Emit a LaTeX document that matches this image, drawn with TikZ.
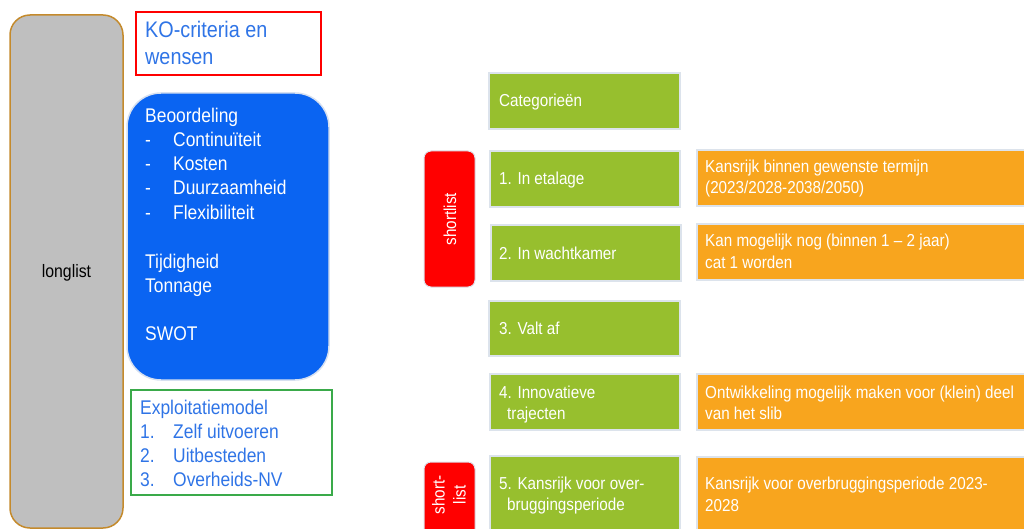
\documentclass[tikz,border=0pt]{standalone}
\usepackage{fontspec}
\setmainfont{Liberation Sans}[FakeStretch=0.88]
\definecolor{longgray}{HTML}{BFBFBF}
\definecolor{longborder}{HTML}{C48A2C}
\definecolor{kored}{HTML}{FF0000}
\definecolor{txtblue}{HTML}{2F74E6}
\definecolor{boxblue}{HTML}{0A64F2}
\definecolor{boxblueb}{HTML}{D6E0F0}
\definecolor{exgreen}{HTML}{3AAA4A}
\definecolor{catgreen}{HTML}{97BF2E}
\definecolor{catborder}{HTML}{DCE3EC}
\definecolor{orangebox}{HTML}{F8A51E}
\begin{document}
\begin{tikzpicture}[x=1pt,y=-1pt,
  bigtxt/.style={font=\fontsize{19.8}{23}\selectfont, inner sep=0pt, anchor=base west},
  kotxt/.style={font=\fontsize{22.5}{26}\selectfont, color=txtblue, inner sep=0pt, anchor=base west},
  smalltxt/.style={font=\fontsize{17.3}{21}\selectfont, color=white, inner sep=0pt, anchor=base west},
  catbox/.style={draw=catborder, line width=1.5pt, fill=catgreen},
  orbox/.style={draw=catborder, line width=1.5pt, fill=orangebox},
  redtag/.style={draw=catborder, line width=1pt, fill=kored, rounded corners=7pt}
]
\useasboundingbox (0,0) rectangle (1024,529);
% longlist
\draw[draw=longborder, line width=1.5pt, fill=longgray, rounded corners=20pt] (10,15) rectangle (123,528);
\node[inner sep=0pt, font=\fontsize{18}{21}\selectfont] (long) at (66.5,273) {longlist};
% KO box
\draw[draw=kored, line width=2.5pt] (136,12) rectangle (321,75);
\node[kotxt] (ko1) at (145,38) {KO-criteria en};
\node[kotxt] (ko2) at (145,65) {wensen};
% blue box
\draw[draw=boxblueb, line width=1.5pt, fill=boxblue, rounded corners=34pt] (127,93) rectangle (329,380);
\begin{scope}[every node/.append style={color=white}]
\node[bigtxt] (b0) at (145,123) {Beoordeling};
\node[bigtxt] (b1d) at (145,147) {-};
\node[bigtxt] (b1) at (173,147) {Continuïteit};
\node[bigtxt] (b2d) at (145,171) {-};
\node[bigtxt] (b2) at (173,171) {Kosten};
\node[bigtxt] (b3d) at (145,195) {-};
\node[bigtxt] (b3) at (173,195) {Duurzaamheid};
\node[bigtxt] (b4d) at (145,219) {-};
\node[bigtxt] (b4) at (173,219) {Flexibiliteit};
\node[bigtxt] (b5) at (145,268) {Tijdigheid};
\node[bigtxt] (b6) at (145,292) {Tonnage};
\node[bigtxt] (b7) at (145,340) {SWOT};
\end{scope}
% exploitatie box
\draw[draw=exgreen, line width=2.5pt] (131,390) rectangle (332,495);
\begin{scope}[every node/.append style={color=txtblue}]
\node[bigtxt] (e0) at (140,414) {Exploitatiemodel};
\node[bigtxt] (e1n) at (140,438) {1.};
\node[bigtxt] (e1) at (173,438) {Zelf uitvoeren};
\node[bigtxt] (e2n) at (140,462) {2.};
\node[bigtxt] (e2) at (173,462) {Uitbesteden};
\node[bigtxt] (e3n) at (140,486) {3.};
\node[bigtxt] (e3) at (173,486) {Overheids-NV};
\end{scope}
% category boxes
\draw[catbox] (489,73) rectangle (680,129);
\node[smalltxt] (c0) at (499,107) {Categorieën};
\draw[catbox] (490,151) rectangle (680,207);
\node[smalltxt] (c1) at (499,185) {1. In etalage};
\draw[catbox] (491,225) rectangle (681,281);
\node[smalltxt] (c2) at (499,259) {2. In wachtkamer};
\draw[catbox] (489,301) rectangle (680,356);
\node[smalltxt] (c3) at (499,334) {3. Valt af};
\draw[catbox] (490,374) rectangle (680,430);
\node[smalltxt] (c4a) at (499,398) {4. Innovatieve};
\node[smalltxt] (c4b) at (507,419) {trajecten};
\draw[catbox] (490,456) rectangle (680,540);
\node[smalltxt] (c5a) at (499,489) {5. Kansrijk voor over-};
\node[smalltxt] (c5b) at (507,510) {bruggingsperiode};
% red tags
\draw[redtag] (424,151) rectangle (475,287);
\node[smalltxt, anchor=center, rotate=90] (sl1) at (450,219) {shortlist};
\draw[redtag] (424,462) rectangle (475,545);
\node[smalltxt, anchor=center, rotate=90, align=center] (sl2) at (449,495) {short-\\list};
% orange boxes
\draw[orbox] (697,150) rectangle (1030,206);
\node[smalltxt] (o1a) at (705,173) {Kansrijk binnen gewenste termijn};
\node[smalltxt] (o1b) at (705,194) {(2023/2028-2038/2050)};
\draw[orbox] (697,224) rectangle (1030,280);
\node[smalltxt] (o2a) at (705,247) {Kan mogelijk nog (binnen 1 – 2 jaar)};
\node[smalltxt] (o2b) at (705,268) {cat 1 worden};
\draw[orbox] (697,374) rectangle (1030,430);
\node[smalltxt] (o3a) at (705,398) {Ontwikkeling mogelijk maken voor (klein) deel};
\node[smalltxt] (o3b) at (705,419) {van het slib};
\draw[orbox] (697,457) rectangle (1030,540);
\node[smalltxt] (o4a) at (705,489) {Kansrijk voor overbruggingsperiode 2023-};
\node[smalltxt] (o4b) at (705,511) {2028};
\end{tikzpicture}
\end{document}
